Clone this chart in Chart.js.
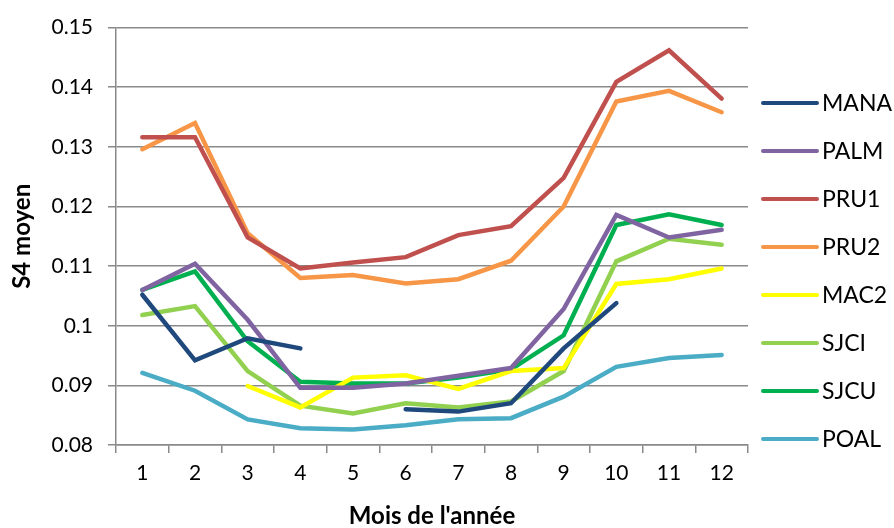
<!DOCTYPE html>
<html>
<head>
<meta charset="utf-8">
<script src="https://cdn.jsdelivr.net/npm/chart.js@4"></script>
<style>
  html,body{margin:0;padding:0;background:#fff}
  #wrap{width:894px;height:528px}
</style>
</head>
<body>
<div id="wrap"><canvas id="chart" width="894" height="528"></canvas></div>
<script>
const months = ["1","2","3","4","5","6","7","8","9","10","11","12"]
const yTicks = [0.08,0.09,0.1,0.11,0.12,0.13,0.14,0.15]

const mana = [0.1052,0.0942,0.0979,0.0962,null,0.0860,0.0856,0.0870,0.0962,0.1038,null,null]
const palm = [0.1060,0.1104,0.1010,0.0896,0.0896,0.0903,0.0916,0.0929,0.1028,0.1186,0.1148,0.1161]
const pru1 = [0.1316,0.1316,0.1148,0.1096,0.1106,0.1115,0.1152,0.1167,0.1248,0.1409,0.1462,0.1381]
const pru2 = [0.1296,0.1340,0.1155,0.1080,0.1085,0.1071,0.1078,0.1109,0.1200,0.1376,0.1394,0.1358]
const mac2 = [null,null,0.0899,0.0863,0.0913,0.0917,0.0894,0.0924,0.0929,0.1070,0.1078,0.1096]
const sjci = [0.1018,0.1033,0.0924,0.0866,0.0853,0.0870,0.0863,0.0873,0.0924,0.1108,0.1146,0.1136]
const sjcu = [0.1060,0.1091,0.0974,0.0906,0.0903,0.0903,0.0913,0.0927,0.0984,0.1169,0.1187,0.1169]
const poal = [0.0921,0.0891,0.0843,0.0828,0.0826,0.0833,0.0843,0.0845,0.0881,0.0931,0.0946,0.0951]

const seriesNames = ["MANA","PALM","PRU1","PRU2","MAC2","SJCI","SJCU","POAL"]
const seriesData = [mana,palm,pru1,pru2,mac2,sjci,sjcu,poal]
const seriesColors = ["#1F497D","#8064A2","#C0504D","#F79646","#FFFF00","#92D050","#00B050","#4BACC6"]

const FONT = "Lato, 'Open Sans', sans-serif"
const GRID = "#8a8a8a"

// legend drawn by hand at the right, Excel style
const sideLegend = {
  id:"sideLegend",
  afterDraw(chart){
    const ctx = chart.ctx
    const x0 = chart.chartArea.right + 15
    ctx.save()
    ctx.font = "23px " + FONT
    ctx.textBaseline = "middle"
    ctx.fillStyle = "#000"
    chart.data.datasets.forEach((ds,i)=>{
      const y = 103 + i*48
      ctx.strokeStyle = ds.borderColor
      ctx.lineWidth = 4
      ctx.lineCap = "round"
      ctx.beginPath()
      ctx.moveTo(x0,y)
      ctx.lineTo(x0+54,y)
      ctx.stroke()
      ctx.fillText(ds.label, x0+59, y+1)
    })
    ctx.restore()
  }
}

new Chart(document.getElementById("chart"),{
  type:"line",
  data:{
    labels:months,
    datasets:seriesNames.map((name,i)=>({
      label:name,
      data:seriesData[i],
      borderColor:seriesColors[i],
      backgroundColor:seriesColors[i],
      borderWidth:4.5,
      borderCapStyle:"round",
      pointRadius:0,
      tension:0,
      spanGaps:false,
      fill:false
    }))
  },
  options:{
    responsive:false,
    animation:false,
    layout:{ padding:{ left:0, top:22, right:146, bottom:0 } },
    plugins:{ legend:{ display:false }, tooltip:{ enabled:false } },
    scales:{
      x:{
        offset:true,
        grid:{ display:true, drawOnChartArea:false, offset:true, color:GRID, lineWidth:1.5, tickLength:8 },
        border:{ color:GRID, width:1.5 },
        ticks:{ color:"#000", font:{ family:FONT, size:21 }, padding:8, maxRotation:0 },
        title:{ display:true, text:"Mois de l'année", color:"#000", font:{ family:FONT, size:24, weight:"bold", lineHeight:1 }, padding:{ top:0, bottom:0 } },
        afterFit(s){ s.height = 83 }
      },
      y:{
        min:0.08, max:0.15,
        afterBuildTicks(s){ s.ticks = yTicks.map(v=>({ value:v })) },
        grid:{ color:GRID, lineWidth:1.5, tickLength:8 },
        border:{ color:GRID, width:1.5 },
        ticks:{ color:"#000", font:{ family:FONT, size:21 }, padding:15, callback:v=>String(+v.toFixed(2)) },
        title:{ display:true, text:"S4 moyen", color:"#000", font:{ family:FONT, size:24, weight:"bold", lineHeight:1 }, padding:{ top:10, bottom:0 } },
        afterFit(s){ s.width = 116 }
      }
    }
  },
  plugins:[sideLegend]
})
</script>
</body>
</html>
